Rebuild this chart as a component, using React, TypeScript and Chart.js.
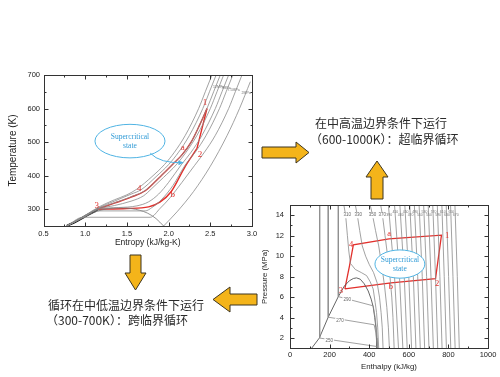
import React, { useEffect, useRef } from "react";
import { Chart, registerables } from "chart.js";

Chart.register(...registerables);

type Pt = [number, number];

/* ---------------- T–s diagram (Entropy kJ/kg-K vs Temperature K) ---------------- */
const tsXTicks = [0.5, 1.0, 1.5, 2.0, 2.5, 3.0];
const tsYTicks = [300, 400, 500, 600, 700];

const tsDome: Pt[] = [[0.78, 250], [0.9, 265], [1.0, 278], [1.1, 290], [1.2, 298], [1.32, 303], [1.43, 304], [1.55, 302], [1.65, 297], [1.75, 288], [1.85, 272], [1.94, 250]];
const tsLiquid: Pt[] = [[0.78, 250], [0.9, 265], [1.0, 279], [1.1, 292], [1.15, 299]];
const tsIsobar1: Pt[] = [[1.94, 250], [2.1, 292], [2.3, 353], [2.5, 428], [2.7, 519], [2.85, 600], [2.98, 680]];
const tsIsobar2: Pt[] = [[0.78, 250], [0.97, 276], [1.78, 276], [1.9, 303], [2.02, 335], [2.16, 380], [2.31, 430], [2.43, 470], [2.56, 520], [2.72, 600], [2.8, 650], [2.88, 700]];
const tsIsobar3: Pt[] = [[0.78, 250], [1.0, 280], [1.12, 295], [1.72, 295], [1.8, 305], [1.92, 330], [2.05, 370], [2.2, 432], [2.32, 470], [2.45, 520], [2.61, 600], [2.69, 650], [2.77, 700]];
const tsIsobar4: Pt[] = [[0.78, 250], [1.0, 279], [1.15, 300], [1.4, 305], [1.62, 310], [1.76, 322], [1.88, 345], [2.0, 380], [2.15, 432], [2.27, 470], [2.4, 520], [2.56, 600], [2.64, 650], [2.72, 700]];
const tsIsobar5: Pt[] = [[0.78, 250], [1.0, 279], [1.15, 300], [1.35, 311], [1.55, 324], [1.7, 340], [1.8, 362], [1.94, 395], [2.09, 432], [2.21, 470], [2.34, 520], [2.5, 600], [2.58, 650], [2.66, 700]];
const tsIsobar6: Pt[] = [[0.78, 250], [1.0, 280], [1.15, 301], [1.35, 319], [1.55, 337], [1.72, 356], [1.9, 397], [2.05, 434], [2.16, 462], [2.27, 500], [2.37, 550], [2.46, 600], [2.54, 650], [2.62, 700]];
const tsIsobar7: Pt[] = [[0.78, 250], [1.0, 281], [1.15, 303], [1.35, 324], [1.55, 345], [1.67, 358], [1.85, 397], [2.0, 433], [2.12, 470], [2.25, 520], [2.41, 600], [2.49, 650], [2.57, 700]];
const tsIsobar8: Pt[] = [[0.78, 250], [1.0, 282], [1.15, 305], [1.35, 328], [1.5, 343], [1.62, 360], [1.8, 397], [1.95, 433], [2.07, 470], [2.2, 520], [2.36, 600], [2.44, 650], [2.52, 700]];
const tsIsobars: Pt[][] = [tsIsobar1, tsIsobar2, tsIsobar3, tsIsobar4, tsIsobar5, tsIsobar6, tsIsobar7, tsIsobar8];

const tsCycleHigh: Pt[] = [[1.14, 300], [1.35, 318], [1.55, 336], [1.72, 355], [1.9, 397], [2.05, 434], [2.16, 462], [2.27, 500], [2.37, 550], [2.46, 600]];
const tsCycleExpansion: Pt[] = [[2.34, 481], [2.4, 540], [2.46, 600]];
const tsCycleLow: Pt[] = [[1.14, 300], [1.5, 302], [1.76, 307], [1.9, 322], [2.03, 352], [2.2, 428], [2.34, 481]];

const tsPointNames = ["1", "2", "3", "4", "a", "b"];
const tsPointPos: Pt[] = [[2.436, 617], [2.377, 464], [1.138, 310], [1.649, 362], [2.169, 485], [2.049, 342]];
const tsPressureNames = ["12MPa", "9MPa", "7.5MPa", "2MPa"];
const tsPressurePos: Pt[] = [[2.6, 664], [2.69, 660], [2.78, 656], [2.93, 646]];

/* ---------------- P–h diagram (Enthalpy kJ/kg vs Pressure MPa) ---------------- */
const phXTicks = [0, 200, 400, 600, 800, 1000];
const phYTicks = [2, 4, 6, 8, 10, 12, 14];

const phDome: Pt[] = [[109, 1.0], [148, 2], [193, 4.04], [244, 6.05], [275, 7.1], [300, 7.6], [320, 7.82], [336, 7.88], [355, 7.75], [375, 7.3], [395, 6.6], [410, 5.8], [420, 5.07], [428, 4], [434, 3], [437, 2], [438, 1.0]];
const phIso250: Pt[] = [[150, 15], [150, 2.0], [437, 1.18], [441, 1.0]];
const phIso270: Pt[] = [[193, 15], [193, 4.04], [425, 3.3], [434, 2.5], [440, 1.0]];
const phIso290: Pt[] = [[244, 15], [244, 6.05], [420, 5.15], [430, 4.0], [438, 2.5], [444, 1.0]];
const phIso310: Pt[] = [[272, 15], [281, 14], [290, 12], [297, 10.5], [305, 9.3], [330, 8.7], [360, 8.4], [387, 8.1], [405, 7.5], [420, 6.8], [430, 5.5], [437, 4.5], [443, 3], [448, 1.0]];
const phIso330: Pt[] = [[330, 15], [340, 14], [352, 12.5], [365, 11], [382, 10], [400, 9.2], [422, 8.4], [440, 7.4], [452, 6], [460, 4.5], [466, 3], [470, 1.0]];
const phIso350: Pt[] = [[405, 15], [417, 14], [432, 12.5], [448, 11], [464, 9], [478, 7], [489, 5], [497, 3], [502, 1.0]];
const phIso370: Pt[] = [[458, 15], [467, 14], [480, 12], [493, 10], [505, 8], [514, 6], [520, 4], [524, 2], [526, 1.0]];
const phLowIsotherms: Pt[][] = [phIso250, phIso270, phIso290, phIso310, phIso330, phIso350, phIso370];

const phHighP = [15, 8, 1];
const phHighT = [390, 410, 430, 450, 470, 490, 510, 530, 550, 570, 590, 610, 630, 650, 670];
const phHighH15 = [497, 528, 555, 580, 605, 628, 652, 675, 698, 721, 744, 767, 789, 811, 833];
const phHighH8 = [528, 553, 577, 600, 623, 645, 668, 690, 712, 735, 757, 779, 801, 823, 845];
const phHighH1 = [548, 570, 592, 614, 636, 658, 680, 702, 724, 746, 768, 790, 812, 834, 855];

const phCycle: Pt[] = [[277, 6.8], [510, 7.4], [735, 7.8], [765, 12.05], [500, 11.7], [320, 11.1], [300, 9.0], [277, 6.8]];
const phPointNames = ["1", "2", "3", "4", "a", "b"];
const phPointPos: Pt[] = [[793, 11.95], [743, 7.3], [257, 6.6], [309, 11.1], [501, 12.15], [509, 7.05]];
const phIsoNames = ["250", "270", "290", "310", "330", "350", "370"];
const phIsoNamePos: Pt[] = [[198, 1.77], [252, 3.69], [289, 5.73], [289, 14.0], [345, 14.0], [417, 14.0], [466, 14.0]];
const phTopNamePos: Pt[] = [[501, 14.0], [532, 14.3], [559, 14.0], [584, 14.3], [609, 14.0], [632, 14.3], [656, 14.0], [679, 14.3], [702, 14.0], [725, 14.3], [748, 14.0], [771, 14.3], [793, 14.0], [815, 14.3], [837, 14.0]];

/* ---------------- helpers ---------------- */
const GRAY = "#8a8a8a";
const RED = "#e2302c";
const BLUE = "#4fb3e3";

const toXY = (pts: Pt[]) => pts.map(([x, y]) => ({ x, y }));

function curve(pts: Pt[], color: string, width: number, smooth: boolean) {
  return {
    data: toXY(pts),
    showLine: true,
    borderColor: color,
    backgroundColor: color,
    borderWidth: width,
    pointRadius: 0,
    pointHoverRadius: 0,
    tension: 0,
    cubicInterpolationMode: smooth ? "monotone" : "default",
  };
}

function makeFrame(minorX: number, minorY: number) {
  return {
    id: "frame",
    afterDatasetsDraw(chart: any) {
      const { ctx, chartArea: a, scales } = chart;
      const xs = scales.x;
      const ys = scales.y;
      ctx.save();
      ctx.strokeStyle = "#333";
      ctx.lineWidth = 1;
      const L = Math.round(a.left) + 0.5, R = Math.round(a.right) + 0.5;
      const T = Math.round(a.top) + 0.5, B = Math.round(a.bottom) + 0.5;
      ctx.strokeRect(L, T, R - L, B - T);
      const majX = xs.ticks.map((t: any) => t.value);
      const majY = ys.ticks.map((t: any) => t.value);
      ctx.beginPath();
      for (let v = xs.min; v <= xs.max + 1e-9; v += minorX) {
        const len = majX.some((m: number) => Math.abs(m - v) < 1e-6) ? 4 : 2;
        const p = Math.round(xs.getPixelForValue(v)) + 0.5;
        ctx.moveTo(p, B); ctx.lineTo(p, B - len);
        ctx.moveTo(p, T); ctx.lineTo(p, T + len);
      }
      for (let v = ys.min; v <= ys.max + 1e-9; v += minorY) {
        const len = majY.some((m: number) => Math.abs(m - v) < 1e-6) ? 4 : 2;
        const p = Math.round(ys.getPixelForValue(v)) + 0.5;
        ctx.moveTo(L, p); ctx.lineTo(L + len, p);
        ctx.moveTo(R, p); ctx.lineTo(R - len, p);
      }
      ctx.stroke();
      ctx.restore();
    },
  };
}

type Ell = { x: number; y: number; rx: number; ry: number; fill?: string; lines: string[] };
type Txt = { x: number; y: number; text: string; color: string; font: string; bg?: boolean };
type Ptr = { from: Pt; ctrl: Pt; to: Pt };

function makeDeco(ellipses: Ell[], texts: Txt[], pointers: Ptr[]) {
  return {
    id: "deco",
    afterDatasetsDraw(chart: any) {
      const { ctx, scales } = chart;
      const px = (v: number) => scales.x.getPixelForValue(v);
      const py = (v: number) => scales.y.getPixelForValue(v);
      ctx.save();
      for (const e of ellipses) {
        const cx = px(e.x), cy = py(e.y);
        const rx = Math.abs(px(e.x + e.rx) - cx), ry = Math.abs(py(e.y + e.ry) - cy);
        ctx.beginPath();
        ctx.ellipse(cx, cy, rx, ry, 0, 0, Math.PI * 2);
        if (e.fill) { ctx.fillStyle = e.fill; ctx.fill(); }
        ctx.lineWidth = 1;
        ctx.strokeStyle = BLUE;
        ctx.stroke();
        ctx.fillStyle = "#2f9ad6";
        ctx.font = "7.5px 'Liberation Serif'";
        ctx.textAlign = "center";
        ctx.textBaseline = "middle";
        const n = e.lines.length;
        e.lines.forEach((t, i) => ctx.fillText(t, cx, cy + (i - (n - 1) / 2) * 9));
      }
      for (const p of pointers) {
        const x0 = px(p.from[0]), y0 = py(p.from[1]);
        const xc = px(p.ctrl[0]), yc = py(p.ctrl[1]);
        const x1 = px(p.to[0]), y1 = py(p.to[1]);
        ctx.beginPath();
        ctx.moveTo(x0, y0);
        ctx.quadraticCurveTo(xc, yc, x1, y1);
        ctx.strokeStyle = BLUE;
        ctx.lineWidth = 1;
        ctx.stroke();
        const ang = Math.atan2(y1 - yc, x1 - xc);
        ctx.beginPath();
        ctx.moveTo(x1 + 1, y1);
        ctx.lineTo(x1 - 5 * Math.cos(ang - 0.5), y1 - 5 * Math.sin(ang - 0.5));
        ctx.lineTo(x1 - 5 * Math.cos(ang + 0.5), y1 - 5 * Math.sin(ang + 0.5));
        ctx.closePath();
        ctx.fillStyle = BLUE;
        ctx.fill();
      }
      for (const t of texts) {
        ctx.font = t.font;
        ctx.textAlign = "center";
        ctx.textBaseline = "middle";
        const x = px(t.x), y = py(t.y);
        if (t.bg) {
          const w = ctx.measureText(t.text).width;
          ctx.fillStyle = "#fff";
          ctx.fillRect(x - w / 2 - 1, y - 3, w + 2, 6);
        }
        ctx.fillStyle = t.color;
        ctx.fillText(t.text, x, y);
      }
      ctx.restore();
    },
  };
}

const AXIS_FONT = "'Liberation Sans', Arial, sans-serif";

function axisX(min: number, max: number, ticks: number[], title: string, height: number, decimals: number, titlePad: number, tickPad: number, titleSize: number) {
  return {
    type: "linear",
    min,
    max,
    afterBuildTicks: (s: any) => { s.ticks = ticks.map((v) => ({ value: v })); },
    afterFit: (s: any) => { s.height = height; s.paddingLeft = 0; s.paddingRight = 0; },
    ticks: {
      callback: (v: any) => Number(v).toFixed(decimals),
      font: { family: AXIS_FONT, size: 7.5 },
      color: "#222",
      padding: tickPad,
      maxRotation: 0,
      autoSkip: false,
    },
    grid: { display: false, drawTicks: false },
    border: { display: false },
    title: { display: true, text: title, color: "#222", font: { family: AXIS_FONT, size: titleSize }, padding: { top: 0, bottom: titlePad } },
  };
}

function axisY(min: number, max: number, ticks: number[], title: string, width: number, titlePad: number, tickPad: number, titleSize: number) {
  return {
    type: "linear",
    min,
    max,
    afterBuildTicks: (s: any) => { s.ticks = ticks.map((v) => ({ value: v })); },
    afterFit: (s: any) => { s.width = width; s.paddingTop = 0; s.paddingBottom = 0; },
    ticks: {
      font: { family: AXIS_FONT, size: 7.5 },
      color: "#222",
      padding: tickPad,
      autoSkip: false,
    },
    grid: { display: false, drawTicks: false },
    border: { display: false },
    title: { display: true, text: title, color: "#222", font: { family: AXIS_FONT, size: titleSize }, padding: { top: titlePad, bottom: 0 } },
  };
}

function tsConfig(): any {
  const datasets: any[] = [];
  tsIsobars.forEach((p) => datasets.push(curve(p, GRAY, 0.8, true)));
  datasets.push(curve(tsDome, "#777", 0.8, true));
  datasets.push(curve(tsLiquid, "#111", 2.2, true));
  datasets.push(curve(tsCycleHigh, RED, 1.4, true));
  datasets.push(curve(tsCycleLow, RED, 1.4, true));
  datasets.push(curve(tsCycleExpansion, RED, 1.4, true));
  const texts: Txt[] = tsPointNames.map((t, i) => ({ x: tsPointPos[i][0], y: tsPointPos[i][1], text: t, color: RED, font: "9px 'Liberation Serif'" }));
  tsPressureNames.forEach((t, i) => texts.push({ x: tsPressurePos[i][0], y: tsPressurePos[i][1], text: t, color: "#777", font: "3.5px 'Liberation Sans'" }));
  return {
    type: "scatter",
    data: { datasets },
    options: {
      responsive: false,
      animation: false,
      events: [],
      layout: { padding: { left: 0, top: 13, right: 10, bottom: 0 } },
      plugins: { legend: { display: false }, tooltip: { enabled: false } },
      scales: {
        x: axisX(0.5, 3.0, tsXTicks, "Entropy (kJ/kg-K)", 26, 1, 4, 3, 8.5),
        y: axisY(250, 700, tsYTicks, "Temperature (K)", 43.5, 7.5, 3.5, 10),
      },
    },
    plugins: [
      makeDeco(
        [{ x: 1.537, y: 503, rx: 0.42, ry: 50, lines: ["Supercritical", "state"] }],
        texts,
        [{ from: [1.78, 467], ctrl: [1.9, 436], to: [2.17, 439] }]
      ),
      makeFrame(0.25, 50),
    ],
  };
}

function phConfig(): any {
  const datasets: any[] = [];
  phHighT.forEach((_, i) => {
    const pts: Pt[] = [[phHighH15[i], phHighP[0]], [phHighH8[i], phHighP[1]], [phHighH1[i], phHighP[2]]];
    datasets.push(curve(pts, GRAY, 0.8, false));
  });
  phLowIsotherms.forEach((p) => datasets.push(curve(p, GRAY, 0.8, false)));
  datasets.push(curve(phDome, "#555", 0.9, false));
  datasets.push(curve(phCycle, RED, 1.3, false));
  const texts: Txt[] = phPointNames.map((t, i) => ({ x: phPointPos[i][0], y: phPointPos[i][1], text: t, color: RED, font: "8.5px 'Liberation Serif'" }));
  phIsoNames.forEach((t, i) => texts.push({ x: phIsoNamePos[i][0], y: phIsoNamePos[i][1], text: t, color: "#666", font: "4.5px 'Liberation Sans'", bg: true }));
  phHighT.forEach((t, i) => texts.push({ x: phTopNamePos[i][0], y: phTopNamePos[i][1], text: String(t), color: "#777", font: "3.5px 'Liberation Sans'" }));
  return {
    type: "scatter",
    data: { datasets },
    options: {
      responsive: false,
      animation: false,
      events: [],
      layout: { padding: { left: 0, top: 8, right: 12, bottom: 0 } },
      plugins: { legend: { display: false }, tooltip: { enabled: false } },
      scales: {
        x: axisX(0, 1000, phXTicks, "Enthalpy (kJ/kg)", 28.7, 0, 5.3, 2, 7.8),
        y: axisY(1, 15, phYTicks, "Pressure (MPa)", 32, 2.3, 6, 7.8),
      },
    },
    plugins: [
      makeDeco([{ x: 555, y: 9.23, rx: 126, ry: 1.38, fill: "#ffffff", lines: ["Supercritical", "state"] }], texts, []),
      makeFrame(100, 1),
    ],
  };
}

const ARROW_FILL = "#f4b41a";
const ARROW_STROKE = "#3d3520";

const cjk: React.CSSProperties = {
  position: "absolute",
  fontFamily: "'Noto Sans CJK SC', sans-serif",
  fontSize: 12,
  lineHeight: "12px",
  color: "#2a2a2a",
  whiteSpace: "nowrap",
};

export default function App() {
  const tsRef = useRef<HTMLCanvasElement>(null);
  const phRef = useRef<HTMLCanvasElement>(null);

  useEffect(() => {
    const c1 = new Chart(tsRef.current as HTMLCanvasElement, tsConfig());
    const c2 = new Chart(phRef.current as HTMLCanvasElement, phConfig());
    return () => {
      c1.destroy();
      c2.destroy();
    };
  }, []);

  return (
    <div style={{ position: "absolute", left: 0, top: 0, width: 500, height: 377, background: "#fff", overflow: "hidden" }}>
      <canvas ref={tsRef} width={262} height={190} style={{ position: "absolute", left: 0, top: 62, width: 262, height: 190 }} />
      <canvas ref={phRef} width={242} height={180} style={{ position: "absolute", left: 258, top: 197, width: 242, height: 180 }} />
      <svg width={500} height={377} style={{ position: "absolute", left: 0, top: 0, pointerEvents: "none" }}>
        <g fill={ARROW_FILL} stroke={ARROW_STROKE} strokeWidth={1} strokeLinejoin="miter">
          <polygon points="262,147 296,147 296,142 309,152.5 296,163 296,158 262,158" />
          <polygon points="371,199 371,177 366,177 377,161 388,177 383,177 383,199" />
          <polygon points="130,255 141,255 141,273 146,273 135.5,290 125,273 130,273" />
          <polygon points="257,294 230,294 230,287 213,299.5 230,312 230,305 257,305" />
        </g>
      </svg>
      <div style={{ ...cjk, left: 315, top: 117 }}>在中高温边界条件下运行</div>
      <div style={{ ...cjk, left: 310, top: 133 }}>（600-1000K）：超临界循环</div>
      <div style={{ ...cjk, left: 48, top: 299 }}>循环在中低温边界条件下运行</div>
      <div style={{ ...cjk, left: 46, top: 314 }}>（300-700K）：跨临界循环</div>
    </div>
  );
}
